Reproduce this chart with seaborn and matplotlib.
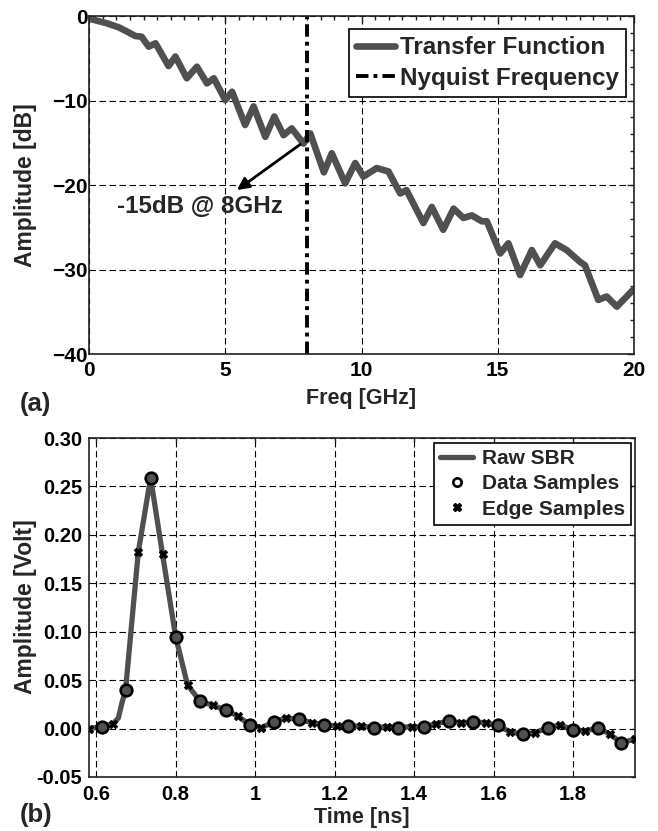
import numpy as np
import pandas as pd
import matplotlib
matplotlib.use("Agg")
import matplotlib.pyplot as plt
from matplotlib.lines import Line2D
from matplotlib.ticker import MultipleLocator, FixedLocator
import seaborn as sns

# ---------------- data ----------------
# (a) transfer function
freq_ghz = [0.0, 0.66, 1.09, 1.40, 1.70, 1.93, 2.19, 2.44, 2.92, 3.17, 3.59, 3.96,
            4.33, 4.58, 5.00, 5.25, 5.73, 6.04, 6.47, 6.80, 7.14, 7.44, 7.87, 8.12,
            8.62, 8.91, 9.40, 9.77, 10.07, 10.56, 10.99, 11.42, 11.65, 12.27, 12.58,
            13.00, 13.38, 13.74, 14.05, 14.42, 14.60, 15.09, 15.39, 15.82, 16.25,
            16.56, 17.10, 17.53, 18.02, 18.20, 18.69, 19.00, 19.37, 20.0]
amp_db = [-0.3, -0.87, -1.34, -1.85, -2.37, -2.45, -3.63, -3.23, -5.92, -4.8, -7.37, -6.0,
          -7.97, -7.37, -9.94, -8.96, -12.9, -10.7, -14.3, -11.9, -14.1, -13.3, -15.1, -13.9,
          -18.5, -16.25, -19.8, -17.4, -19.0, -18.0, -18.4, -21.0, -20.6, -24.5, -22.6,
          -25.3, -22.8, -23.9, -23.6, -24.3, -24.3, -28.1, -26.9, -30.65, -27.7,
          -29.5, -26.9, -27.7, -29.1, -29.5, -33.6, -33.2, -34.4, -32.3]
nyquist_ghz = 8.0

# (b) single bit response
data_t = [0.614, 0.674, 0.737, 0.800, 0.862, 0.926, 0.986, 1.048, 1.110, 1.174, 1.234,
          1.300, 1.360, 1.425, 1.488, 1.548, 1.610, 1.675, 1.736, 1.800, 1.863, 1.922]
data_v = [0.002, 0.040, 0.259, 0.095, 0.028, 0.019, 0.004, 0.007, 0.0095, 0.004, 0.0026,
          0.001, 0.001, 0.0015, 0.0077, 0.007, 0.0033, -0.006, 0.0008, -0.001, 0.0008, -0.0146]
edge_t = [0.582, 0.643, 0.706, 0.767, 0.830, 0.894, 0.956, 1.016, 1.079, 1.144, 1.205,
          1.266, 1.331, 1.394, 1.455, 1.518, 1.580, 1.641, 1.704, 1.767, 1.829, 1.893, 1.955]
edge_v = [0.000, 0.005, 0.182, 0.180, 0.045, 0.024, 0.013, 0.001, 0.011, 0.006, 0.0026,
          0.0025, 0.002, 0.002, 0.005, 0.006, 0.006, -0.0033, -0.0043, 0.0036, -0.0026, -0.006, -0.011]
extra_t = [0.656, 0.664]
extra_v = [0.011, 0.025]

x_ticks_b = [0.6, 0.8, 1.0, 1.2, 1.4, 1.6, 1.8]
x_ticklabels_b = ["0.6", "0.8", "1", "1.2", "1.4", "1.6", "1.8"]
y_ticks_b = [-0.05, 0.0, 0.05, 0.10, 0.15, 0.20, 0.25, 0.30]

# ---------------- style ----------------
sns.set_style("white")
plt.rcParams["font.family"] = ["Liberation Sans", "DejaVu Sans"]
plt.rcParams["font.weight"] = "bold"
plt.rcParams["axes.labelweight"] = "bold"

GRAY = "#505050"
W, H = 658, 831
fig = plt.figure(figsize=(W / 100, H / 100), dpi=100)

def px_rect(l, t, r, b):
    return [l / W, 1 - b / H, (r - l) / W, (b - t) / H]

ax1 = fig.add_axes(px_rect(89, 16, 634, 354))
ax2 = fig.add_axes(px_rect(89, 438, 635, 777))

grid_kw = dict(color="black", lw=0.8, linestyle=(0, (5.8, 3.2)))

# ---- (a) ----
df_a = pd.DataFrame({"freq": freq_ghz, "db": amp_db})
sns.lineplot(data=df_a, x="freq", y="db", ax=ax1, color=GRAY, lw=4.8,
             sort=False, estimator=None, solid_joinstyle="round", solid_capstyle="round")
ax1.axvline(nyquist_ghz, color="black", lw=2.8, linestyle=(0, (3.2, 1.3, 1.0, 1.3)))
ax1.set_xlim(0, 20)
ax1.set_ylim(-40, 0)
ax1.xaxis.set_major_locator(MultipleLocator(5))
ax1.xaxis.set_minor_locator(MultipleLocator(0.5))
ax1.yaxis.set_major_locator(MultipleLocator(10))
ax1.yaxis.set_minor_locator(MultipleLocator(2))
ax1.grid(True, which="major", **grid_kw)
ax1.tick_params(which="both", direction="in", top=True, right=True, colors="#222222",
                labelsize=15, width=1)
ax1.tick_params(which="major", length=5)
ax1.tick_params(which="minor", length=3)
ax1.tick_params(axis="x", pad=5)
ax1.tick_params(axis="y", pad=1)
ax1.set_xlabel("")
ax1.set_ylabel("")
for lab in ax1.get_xticklabels() + ax1.get_yticklabels():
    lab.set_fontweight("bold")
    lab.set_color("black")

ax1.annotate("", xy=(5.43, -20.6), xytext=(7.75, -15.2),
             arrowprops=dict(arrowstyle="-|>", color="black", lw=2,
                             mutation_scale=18, shrinkA=0, shrinkB=0))
ax1.text(4.08, -22.5, "-15dB @ 8GHz", fontsize=17.4, fontweight="bold",
         ha="center", va="center")

h_a = [Line2D([], [], color=GRAY, lw=4.8),
       Line2D([], [], color="black", lw=2.8, linestyle=(0, (3.2, 1.3, 1.0, 1.3)))]
leg1 = ax1.legend(h_a, ["Transfer Function", "Nyquist Frequency"], loc="upper right",
                  bbox_to_anchor=(626 / W, 1 - 29 / H), bbox_transform=fig.transFigure,
                  prop=dict(size=17.5, weight="bold"), frameon=True, fancybox=False,
                  framealpha=1, edgecolor="black", borderpad=0.3, handlelength=1.6,
                  handletextpad=0.2, labelspacing=0.3, borderaxespad=0)
leg1.get_frame().set_linewidth(1.2)

# ---- (b) ----
raw_t = sorted(data_t + edge_t + extra_t)
raw_map = dict(zip(data_t + edge_t + extra_t, data_v + edge_v + extra_v))
df_raw = pd.DataFrame({"t": raw_t, "v": [raw_map[t] for t in raw_t]})
sns.lineplot(data=df_raw, x="t", y="v", ax=ax2, color=GRAY, lw=3.8, sort=False,
             estimator=None, solid_joinstyle="round", zorder=3)
sns.scatterplot(x=data_t, y=data_v, ax=ax2, marker="o", s=70, facecolor=GRAY,
                edgecolor="black", linewidth=1.9, zorder=4)
sns.scatterplot(x=edge_t, y=edge_v, ax=ax2, marker="X", s=38, color="black",
                edgecolor="black", linewidth=0.5, zorder=4)
ax2.set_xlim(0.582, 1.956)
ax2.set_ylim(-0.05, 0.30)
ax2.xaxis.set_major_locator(FixedLocator(x_ticks_b))
ax2.set_xticklabels(x_ticklabels_b)
ax2.yaxis.set_major_locator(FixedLocator(y_ticks_b))
ax2.set_yticklabels([f"{v:.2f}" for v in y_ticks_b])
ax2.grid(True, which="major", **grid_kw)
ax2.tick_params(which="both", direction="in", top=True, right=True, colors="#222222",
                labelsize=14.5, length=3, width=1)
ax2.tick_params(axis="x", pad=6)
ax2.tick_params(axis="y", pad=5)
ax2.set_xlabel("")
ax2.set_ylabel("")
for lab in ax2.get_xticklabels() + ax2.get_yticklabels():
    lab.set_fontweight("bold")
    lab.set_color("black")

h_b = [Line2D([], [], color=GRAY, lw=3.8),
       Line2D([], [], color="black", lw=0, marker="o", markersize=6,
              markerfacecolor="none", markeredgewidth=1.9),
       Line2D([], [], color="black", lw=0, marker="X", markersize=5.5)]
leg2 = ax2.legend(h_b, ["Raw SBR", "Data Samples", "Edge Samples"], loc="upper right",
                  bbox_to_anchor=(631 / W, 1 - 443 / H), bbox_transform=fig.transFigure,
                  prop=dict(size=15, weight="bold"), frameon=True, fancybox=False,
                  framealpha=1, edgecolor="black", borderpad=0.3, handlelength=1.6,
                  handletextpad=0.4, labelspacing=0.3, borderaxespad=0)
leg2.get_frame().set_linewidth(1.2)

for ax in (ax1, ax2):
    for sp in ax.spines.values():
        sp.set_color("#222222")
        sp.set_linewidth(1.2)

# ---- labels ----
fig.text(361 / W, 1 - 404 / H, "Freq [GHz]", fontsize=15.5, fontweight="bold",
         ha="center", va="baseline")
fig.text(20 / W, 1 - 411 / H, "(a)", fontsize=18.5, fontweight="bold",
         ha="left", va="baseline")
fig.text(26 / W, 1 - 185 / H, "Amplitude [dB]", fontsize=16.5, fontweight="bold",
         rotation=90, ha="center", va="center")
fig.text(362 / W, 1 - 823 / H, "Time [ns]", fontsize=15.5, fontweight="bold",
         ha="center", va="baseline")
fig.text(20 / W, 1 - 822 / H, "(b)", fontsize=18.5, fontweight="bold",
         ha="left", va="baseline")
fig.text(26 / W, 1 - 607 / H, "Amplitude [Volt]", fontsize=16.5, fontweight="bold",
         rotation=90, ha="center", va="center")

fig.savefig("out.png", dpi=100, facecolor="white")
